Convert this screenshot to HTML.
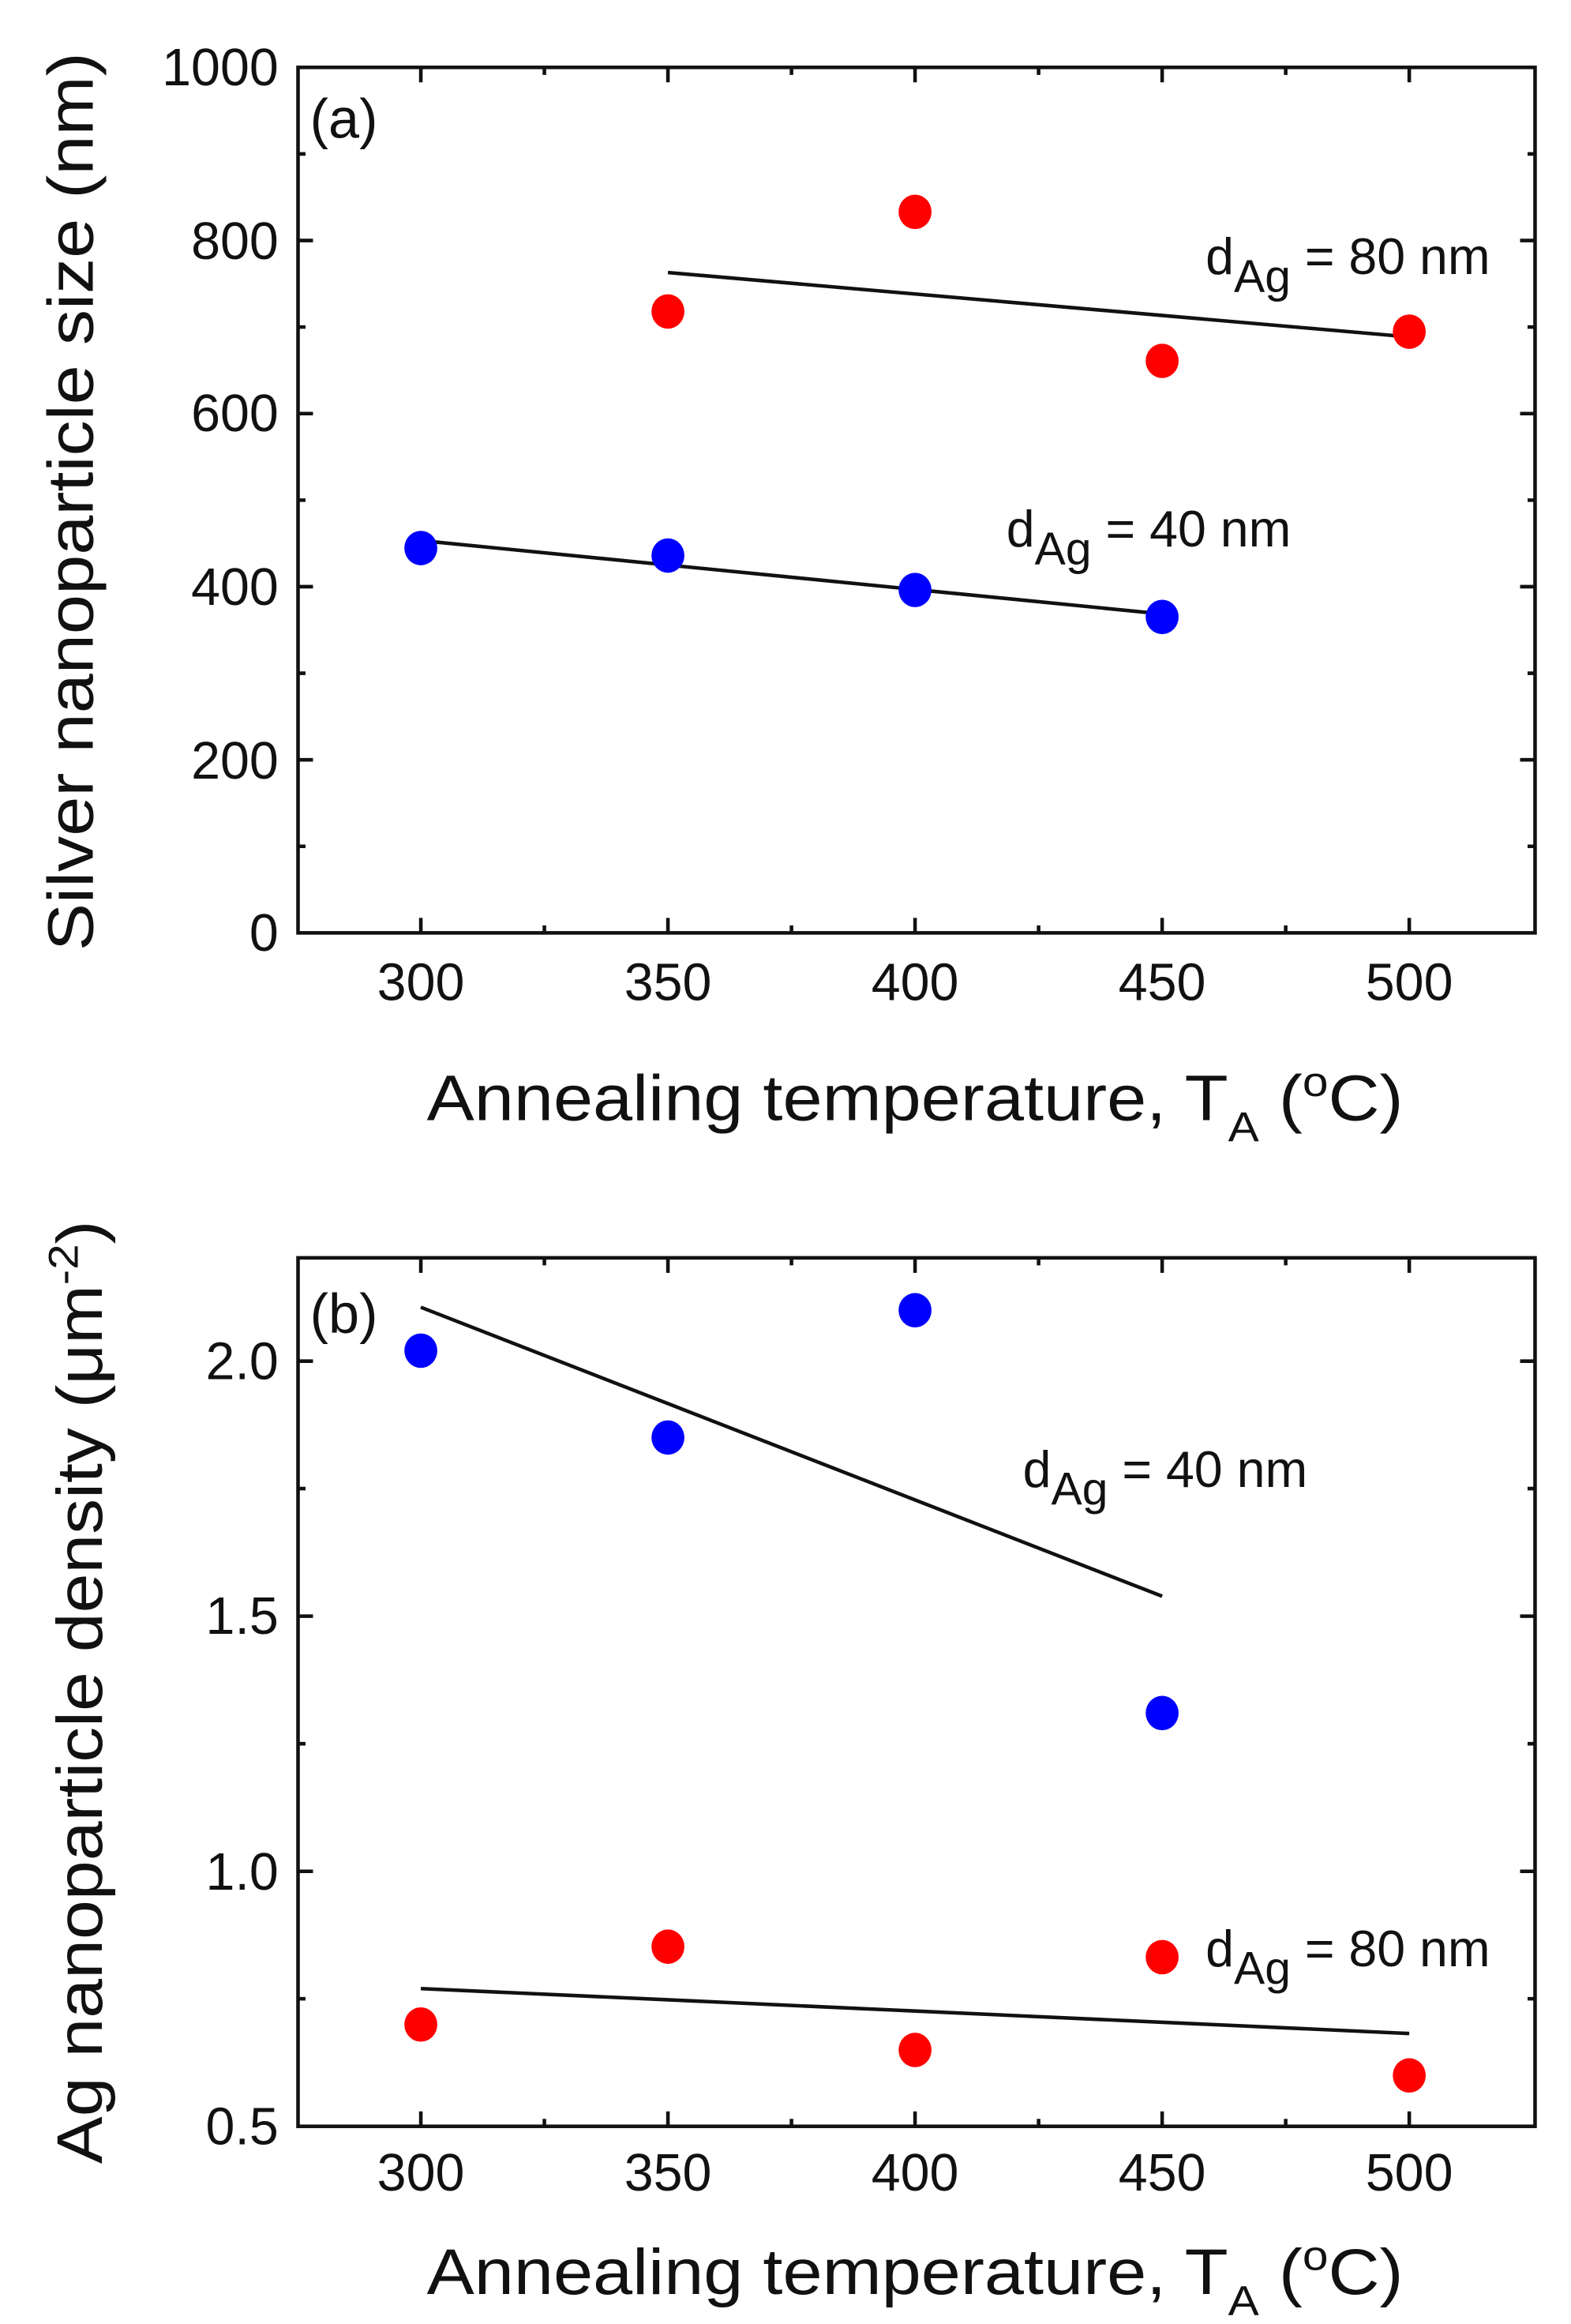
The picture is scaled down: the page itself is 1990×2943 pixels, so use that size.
<!DOCTYPE html>
<html><head><meta charset="utf-8"><style>html,body{margin:0;padding:0;background:#fff}svg{display:block}</style></head>
<body>
<svg width="1990" height="2943" viewBox="0 0 1049 1552" preserveAspectRatio="none" xmlns="http://www.w3.org/2000/svg" font-family="Liberation Sans, Arial, sans-serif" fill="#111">
<rect width="1049" height="1552" fill="#fff"/>
<!-- Panel a -->
<g stroke="#111" stroke-width="2.4" fill="none">
<rect x="199" y="45" width="826" height="578"/>
<path d="M281 623v-10M446 623v-10M611 623v-10M776 623v-10M941 623v-10M363.5 623v-5M528.5 623v-5M693.5 623v-5M858.5 623v-5
M281 45v10M446 45v10M611 45v10M776 45v10M941 45v10M363.5 45v5M528.5 45v5M693.5 45v5M858.5 45v5
M199 507.4h10M199 391.8h10M199 276.2h10M199 160.6h10M199 565.2h5M199 449.6h5M199 334h5M199 218.4h5M199 102.8h5
M1025 507.4h-10M1025 391.8h-10M1025 276.2h-10M1025 160.6h-10M1025 565.2h-5M1025 449.6h-5M1025 334h-5M1025 218.4h-5M1025 102.8h-5"/>
<line x1="446" y1="182" x2="941" y2="225"/>
<line x1="281" y1="361" x2="776" y2="410"/>
</g>
<g fill="#f00"><ellipse cx="446" cy="208" rx="11" ry="11.5"/><ellipse cx="611" cy="141.5" rx="11" ry="11.5"/><ellipse cx="776" cy="241" rx="11" ry="11.5"/><ellipse cx="941" cy="221.5" rx="11" ry="11.5"/></g>
<g fill="#00f"><ellipse cx="281" cy="366" rx="11" ry="11.5"/><ellipse cx="446" cy="371" rx="11" ry="11.5"/><ellipse cx="611" cy="394" rx="11" ry="11.5"/><ellipse cx="776" cy="412" rx="11" ry="11.5"/></g>
<g font-size="35" text-anchor="end">
<text x="186" y="57">1000</text><text x="186" y="173">800</text><text x="186" y="288">600</text><text x="186" y="404">400</text><text x="186" y="520">200</text><text x="186" y="635">0</text>
</g>
<g font-size="35" text-anchor="middle">
<text x="281" y="668">300</text><text x="446" y="668">350</text><text x="611" y="668">400</text><text x="776" y="668">450</text><text x="941" y="668">500</text>
</g>
<text x="285" y="748" font-size="43" textLength="652" lengthAdjust="spacingAndGlyphs">Annealing temperature, T<tspan font-size="28" dy="14">A</tspan><tspan dy="-14"> (</tspan><tspan font-size="28" dy="-16">o</tspan><tspan dy="16">C)</tspan></text>
<text transform="translate(62,335) rotate(-90)" font-size="43" text-anchor="middle" textLength="600" lengthAdjust="spacingAndGlyphs">Silver nanoparticle size (nm)</text>
<text x="207" y="92" font-size="37">(a)</text>
<text x="805" y="183" font-size="34">d<tspan font-size="31" dy="12">Ag</tspan><tspan dy="-12"> = 80 nm</tspan></text>
<text x="672" y="365" font-size="34">d<tspan font-size="31" dy="12">Ag</tspan><tspan dy="-12"> = 40 nm</tspan></text>

<!-- Panel b -->
<g stroke="#111" stroke-width="2.4" fill="none">
<rect x="199" y="840" width="826" height="580"/>
<path d="M281 1420v-10M446 1420v-10M611 1420v-10M776 1420v-10M941 1420v-10M363.5 1420v-5M528.5 1420v-5M693.5 1420v-5M858.5 1420v-5
M281 840v10M446 840v10M611 840v10M776 840v10M941 840v10M363.5 840v5M528.5 840v5M693.5 840v5M858.5 840v5
M199 909h10M199 1079.3h10M199 1249.7h10M199 994.1h5M199 1164.5h5M199 1334.8h5
M1025 909h-10M1025 1079.3h-10M1025 1249.7h-10M1025 994.1h-5M1025 1164.5h-5M1025 1334.8h-5"/>
<line x1="281" y1="873" x2="776" y2="1066"/>
<line x1="281" y1="1328" x2="941" y2="1358"/>
</g>
<g fill="#00f"><ellipse cx="281" cy="902" rx="11" ry="11.5"/><ellipse cx="446" cy="960" rx="11" ry="11.5"/><ellipse cx="611" cy="875" rx="11" ry="11.5"/><ellipse cx="776" cy="1144" rx="11" ry="11.5"/></g>
<g fill="#f00"><ellipse cx="281" cy="1352" rx="11" ry="11.5"/><ellipse cx="446" cy="1300" rx="11" ry="11.5"/><ellipse cx="611" cy="1369" rx="11" ry="11.5"/><ellipse cx="776" cy="1307" rx="11" ry="11.5"/><ellipse cx="941" cy="1386" rx="11" ry="11.5"/></g>
<g font-size="35" text-anchor="end">
<text x="186" y="921">2.0</text><text x="186" y="1091">1.5</text><text x="186" y="1262">1.0</text><text x="186" y="1432">0.5</text>
</g>
<g font-size="35" text-anchor="middle">
<text x="281" y="1463">300</text><text x="446" y="1463">350</text><text x="611" y="1463">400</text><text x="776" y="1463">450</text><text x="941" y="1463">500</text>
</g>
<text x="285" y="1532" font-size="43" textLength="652" lengthAdjust="spacingAndGlyphs">Annealing temperature, T<tspan font-size="28" dy="14">A</tspan><tspan dy="-14"> (</tspan><tspan font-size="28" dy="-16">o</tspan><tspan dy="16">C)</tspan></text>
<text transform="translate(68,1130) rotate(-90)" font-size="43" text-anchor="middle" textLength="630" lengthAdjust="spacingAndGlyphs">Ag nanoparticle density (μm<tspan font-size="28" dy="-16">-2</tspan><tspan dy="16">)</tspan></text>
<text x="207" y="890" font-size="37">(b)</text>
<text x="683" y="993" font-size="34">d<tspan font-size="31" dy="12">Ag</tspan><tspan dy="-12"> = 40 nm</tspan></text>
<text x="805" y="1313" font-size="34">d<tspan font-size="31" dy="12">Ag</tspan><tspan dy="-12"> = 80 nm</tspan></text>
</svg>
</body></html>
